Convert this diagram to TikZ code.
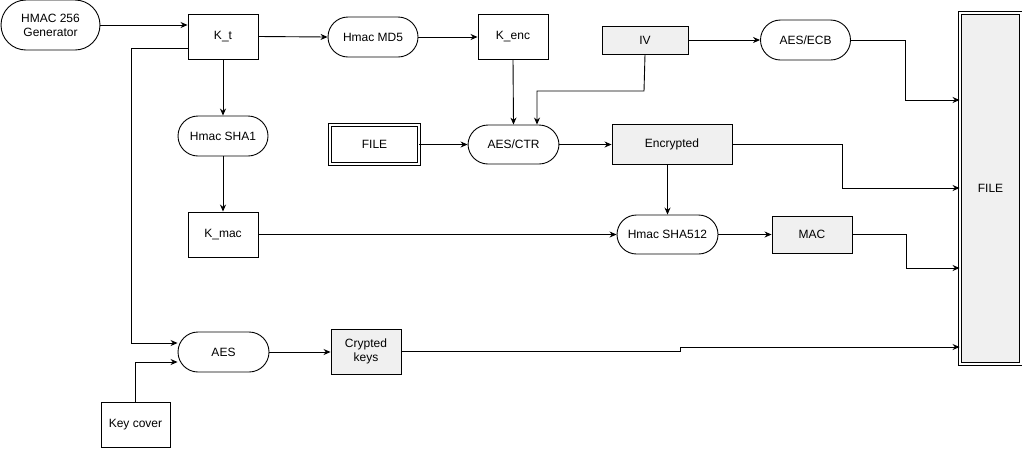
\documentclass[tikz,border=0pt]{standalone}
\usepackage{fontspec}
\setmainfont{Liberation Sans}
\usetikzlibrary{arrows.meta}
\begin{document}
\begin{tikzpicture}[x=1pt,y=-1pt,
  font=\fontsize{12}{14}\selectfont,
  box/.style={draw,line width=0.9pt,minimum width=70pt,minimum height=45pt,inner sep=0pt,align=center},
  oval/.style={draw,line width=0.9pt,rounded corners=20pt,minimum width=90pt,minimum height=40pt,inner sep=0pt,align=center},
  data/.style={box,fill=gray!12},
  arr/.style={-{Stealth[length=7pt,width=6pt]},line width=0.9pt}]
\useasboundingbox (0,0) rectangle (1022,451);
% key derivation
\node[oval,minimum width=99pt,minimum height=50pt,rounded corners=25pt] (gen) at (50.5,25) {HMAC 256\\Generator};
\node[box] (kt) at (223,36.5) {K\_t};
\node[oval] (md5) at (373,37) {Hmac MD5};
\node[box] (kenc) at (513,36.5) {K\_enc};
\node[oval] (sha1) at (223,136) {Hmac SHA1};
\node[box] (kmac) at (223,234.5) {K\_mac};
% encryption
\node[data,minimum width=86pt,minimum height=28pt] (iv) at (645,40) {IV};
\node[oval] (ecb) at (805.5,40) {AES/ECB};
\node[box,minimum width=89pt,minimum height=39pt,double,double distance=1.5pt] (file) at (374.5,144.5) {FILE};
\node[oval,minimum width=91pt,minimum height=39pt] (ctr) at (513.5,144.5) {AES/CTR};
\node[data,minimum width=120pt,minimum height=40pt] (enc) at (672,144) {Encrypted};
\node[oval,minimum width=101pt,minimum height=39pt,rounded corners=19.5pt] (sha512) at (667.5,234.5) {Hmac SHA512};
\node[data,minimum width=80pt,minimum height=37pt] (mac) at (812,234.5) {MAC};
% key wrapping
\node[oval,minimum width=91pt] (aes) at (223.5,352) {AES};
\node[data] (ck) at (366,351.5) {Crypted\\keys};
\node[box,minimum width=69pt] (cover) at (135.5,424.5) {Key cover};
\node[box,fill=gray!12,minimum width=61pt,minimum height=351pt,double,double distance=1.5pt] (out) at (990.5,188.5) {FILE};

\draw[arr] (gen.east) -- (gen.east -| kt.west);
\draw[arr] (kt.east) -- (md5.west);
\draw[arr] (md5.east) -- (md5.east -| kenc.west);
\draw[arr] (kt.south) -- (sha1.north);
\draw[arr] (sha1.south) -- (kmac.north);
\draw[arr] (kenc.south) -- (ctr.north);
\draw[arr] (iv.south) -- (644,91) -| ([xshift=23.5pt]ctr.north);
\draw[arr] (iv.east) -- (ecb.west);
\draw[arr] (file.east) -- (ctr.west);
\draw[arr] (ctr.east) -- (ctr.east -| enc.west);
\draw[arr] (enc.south -| sha512.north) -- (sha512.north);
\draw[arr] (kmac.east) -- (sha512.west);
\draw[arr] (sha512.east) -- (mac.west);
\draw[arr] (ecb.east) -| (905,100) -- (out.west |- 0,100);
\draw[arr] (enc.east) -| (842,188) -- (out.west |- 0,188);
\draw[arr] (mac.east) -| (906,268) -- (out.west |- 0,268);
\draw[arr] (kt.west |- 0,48) -| (131,343) -- (aes.west |- 0,343);
\draw[arr] (cover.north) |- (aes.west |- 0,362);
\draw[arr] (aes.east) -- (aes.east -| ck.west);
\draw[arr] (ck.east) -| (680,347) -- (out.west |- 0,347);
\end{tikzpicture}
\end{document}
